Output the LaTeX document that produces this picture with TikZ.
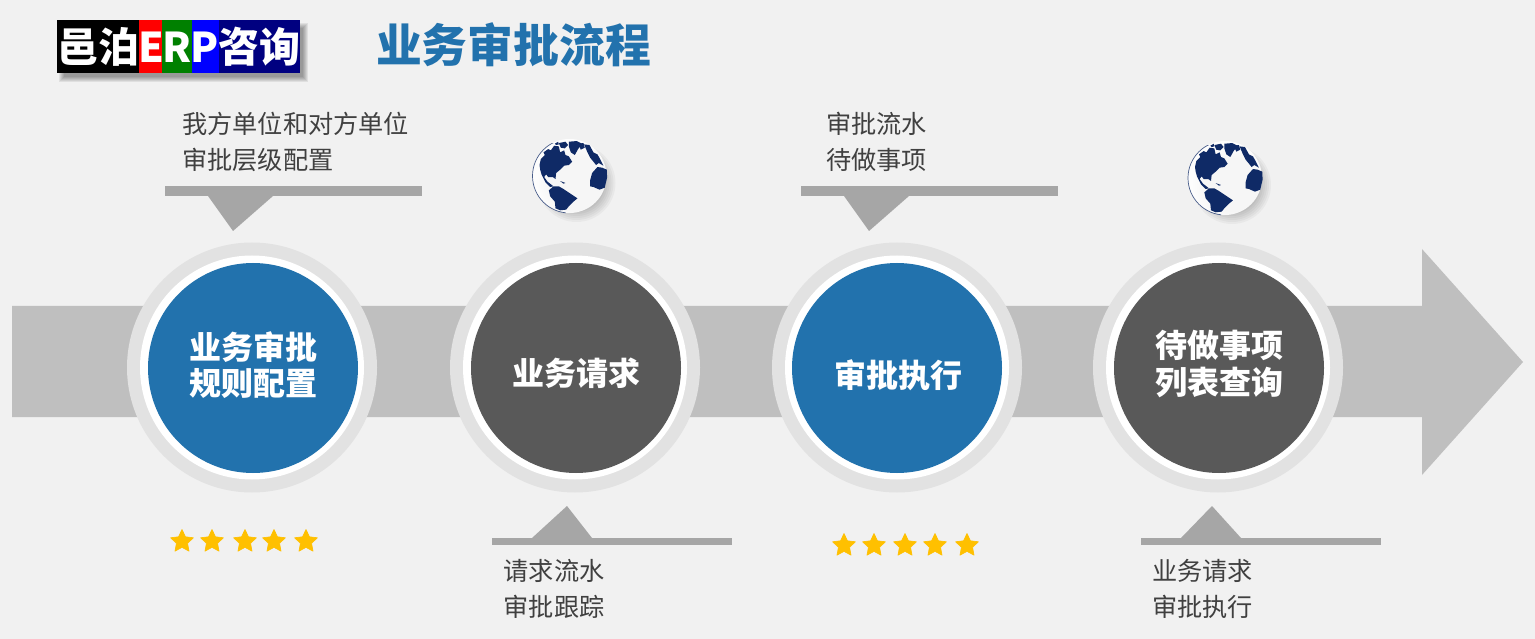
\documentclass[tikz,border=0pt]{standalone}
\usepackage{fontspec}
\setmainfont{Noto Sans CJK SC}
\usetikzlibrary{shapes.geometric}
\definecolor{bgc}{HTML}{F1F1F1}
\definecolor{bluec}{HTML}{2272AD}
\definecolor{darkc}{HTML}{595959}
\definecolor{arrowc}{HTML}{BFBFBF}
\definecolor{ringc}{HTML}{E2E2E2}
\definecolor{callc}{HTML}{A6A6A6}
\definecolor{starc}{HTML}{FFC000}
\definecolor{globec}{HTML}{0F2A66}
\definecolor{navyc}{HTML}{000080}
\definecolor{greenc}{HTML}{008000}
\definecolor{textc}{HTML}{404040}
\newcommand{\fs}[1]{\fontsize{#1}{#1}\selectfont}
\tikzset{
  x=1pt,y=-1pt,
  outerring/.style={circle,fill=ringc,minimum size=250pt,inner sep=0pt},
  whitering/.style={circle,fill=white,minimum size=224pt,inner sep=0pt},
  discblue/.style={circle,fill=bluec,minimum size=210pt,inner sep=0pt},
  discdark/.style={circle,fill=darkc,minimum size=210pt,inner sep=0pt},
  disctext/.style={font=\fs{32}\bfseries,text=white,align=center,inner sep=0pt},
  notetext/.style={font=\fontsize{25.2}{36}\selectfont,text=textc,align=left,inner sep=0pt,anchor=west},
  callout/.style={fill=callc,draw=none},
  goldstar/.style={star,star points=5,star point ratio=2.05,fill=starc,draw=starc,line width=.6pt,line join=round,minimum size=24pt,inner sep=0pt},
  logotext/.style={font=\fs{41}\bfseries,text=white,inner sep=0pt},
  globe/.pic={
    \foreach \r in {39,37,35,33,31,29,27}{
      \fill[black,opacity=.035] (7,7) circle[radius=\r];}
    \fill[white,opacity=.88] (0,0) circle[radius=37];
    \begin{scope}
      \clip (-40,-32) rectangle (-4,40);
      \draw[globec,line width=.7pt,opacity=.75] (0,0) circle[radius=37];
    \end{scope}
    \begin{scope}[x=.333pt,y=-.333pt,xshift=-59.3pt,yshift=51.6pt]
      \fill[globec] (88,122)--(92,104)--(104,92)--(100,84)--(114,74)--(122,78)--(132,64)--(146,66)--(150,84)--(162,78)--(166,92)--(176,96)--(186,112)--(176,122)--(162,124)--(150,136)--(138,146)--(136,164)--(128,158)--(114,158)--(108,150)--(102,158)--(112,172)--(130,186)--(120,188)--(106,174)--(94,150)--(90,136)--cycle;
      \fill[globec] (146,56)--(166,52)--(174,62)--(164,72)--(152,70)--cycle;
      \fill[globec] (176,52)--(200,50)--(216,58)--(204,74)--(194,92)--(182,84)--(176,66)--cycle;
      \fill[globec] (134,58)--(144,52)--(146,60)--(138,62)--cycle;
      \fill[globec] (116,198)--(130,186)--(146,186)--(160,194)--(172,202)--(202,222)--(190,232)--(176,246)--(168,256)--(150,258)--(136,252)--(134,232)--(120,216)--cycle;
      \fill[globec] (240,168)--(246,146)--(262,128)--(276,130)--(290,136)--(291,160)--(284,190)--(268,196)--(250,188)--(240,186)--cycle;
      \fill[globec] (222,60)--(238,62)--(250,84)--(262,90)--(270,104)--(280,124)--(266,116)--(258,122)--(250,112)--(240,100)--(232,84)--cycle;
      \fill[globec] (204,58)--(220,56)--(224,70)--(212,76)--cycle;
      \fill[globec] (150,170)--(166,176)--(160,178)--cycle;
    \end{scope}
  }
}
\begin{document}
\begin{tikzpicture}
\useasboundingbox (0,0) rectangle (1535,639);
\fill[bgc] (0,0) rectangle (1535,639);

% main arrow
\fill[arrowc] (12,306)--(1422,306)--(1422,249)--(1523,362)--(1422,475)--(1422,417)--(12,417)--cycle;

% logo
\foreach \s in {-1,0,1,2,3,4}{
  \fill[black,opacity=.07] (60+\s,24+\s) rectangle (307-\s,81-\s);}
\fill[black] (57,20) rectangle (139,73);
\fill[red] (139,20) rectangle (162,73);
\fill[greenc] (162,20) rectangle (192,73);
\fill[blue] (192,20) rectangle (219,73);
\fill[navyc] (219,20) rectangle (300,73);
\node[logotext] (logoa) at (98.5,47) {邑泊};
\node[logotext] (logob) at (151,47) {E};
\node[logotext] (logoc) at (177,47) {R};
\node[logotext] (logod) at (205,47) {P};
\node[logotext] (logoe) at (259,47) {咨询};

% title
\node[font=\fs{45.8}\bfseries,text=bluec,inner sep=0pt] (title) at (513.5,45) {业务审批流程};

% discs
\foreach \n/\x in {a/252,b/575,c/897,d/1218}{
  \node[outerring] (ring\n) at (\x,367.5) {};
  \node[whitering] (white\n) at (\x,367.5) {};
}
\node[discblue] (disca) at (253,368) {};
\node[discdark] (discb) at (576,368) {};
\node[discblue] (discc) at (897,368) {};
\node[discdark] (discd) at (1219,368) {};
\node[disctext] (labela) at (253,365) {业务审批\\[4.5pt]规则配置};
\node[disctext] (labelb) at (576,373) {业务请求};
\node[disctext] (labelc) at (898,375) {审批执行};
\node[disctext] (labeld) at (1219,364) {待做事项\\[4.5pt]列表查询};

% callouts
\fill[callout] (165,186) rectangle (422,196);
\fill[callout] (208,196)--(273,196)--(233,231)--cycle;
\fill[callout] (801,186) rectangle (1058,196);
\fill[callout] (844,196)--(909,196)--(869,231)--cycle;
\fill[callout] (492,538) rectangle (732,545);
\fill[callout] (532,538)--(567,506)--(592,538)--cycle;
\fill[callout] (1141,538) rectangle (1381,545);
\fill[callout] (1181,538)--(1212,506)--(1241,538)--cycle;

% notes
\node[notetext] (notea) at (182,142) {我方单位和对方单位\\审批层级配置};
\node[notetext] (notec) at (826,142) {审批流水\\待做事项};
\node[notetext] (noteb) at (503.5,589) {请求流水\\审批跟踪};
\node[notetext] (noted) at (1152,589) {业务请求\\审批执行};

% globes
\pic at (569.5,176) {globe};
\pic at (1225,178) {globe};

% stars
\foreach \x [count=\i] in {182,212,245,274,306}{
  \node[goldstar] (stara\i) at (\x,541.5) {};}
\foreach \x [count=\i] in {844,874,905,935,967}{
  \node[goldstar] (starb\i) at (\x,545.5) {};}
\end{tikzpicture}
\end{document}
